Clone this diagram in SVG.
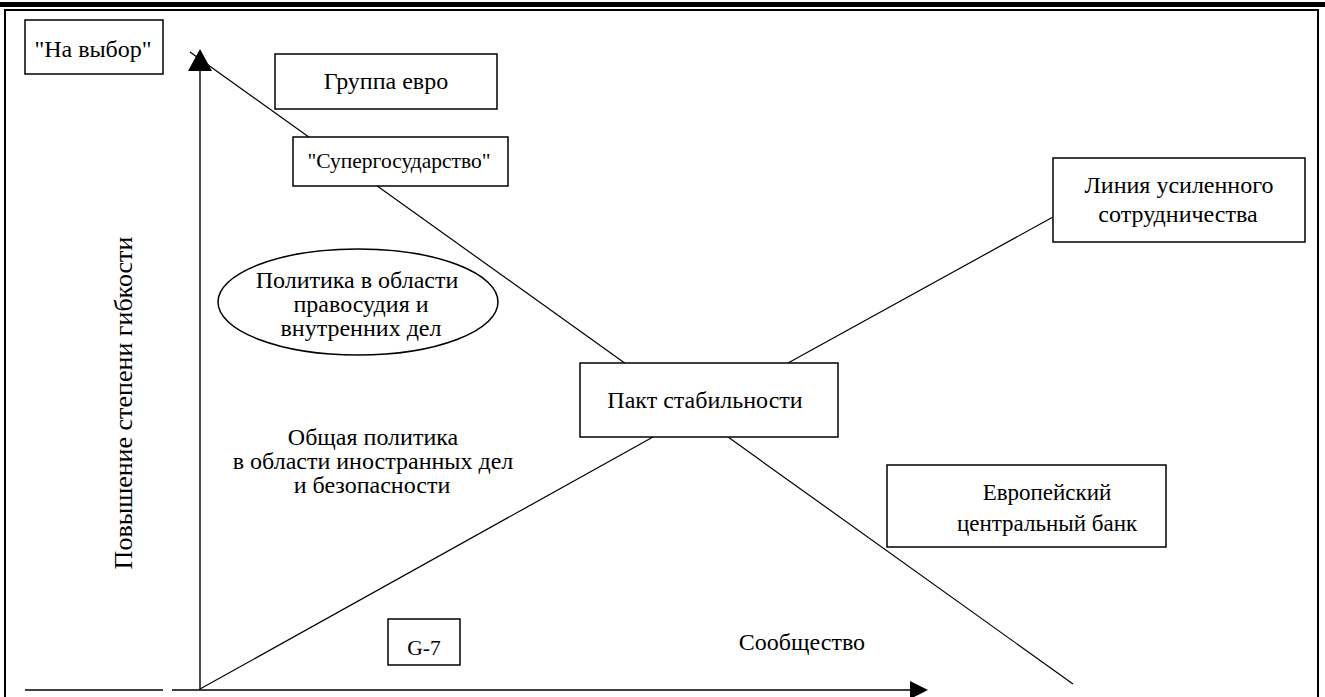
<svg xmlns="http://www.w3.org/2000/svg" width="1325" height="697" viewBox="0 0 1325 697" font-family="'Liberation Serif', 'Times New Roman', 'DejaVu Serif', serif">
<style>
text{font-family:'Liberation Serif','Times New Roman','DejaVu Serif',serif;fill:#000;text-anchor:middle;font-size:24px}
.box{fill:#fff;stroke:#000;stroke-width:1.5}
.ln{stroke:#000;stroke-width:1.2;fill:none}
.ax{stroke:#000;stroke-width:1.4;fill:none}
.t21{font-size:21.5px}
.t23{font-size:23px}
.t26{font-size:26px}
</style>
<rect width="1325" height="697" fill="#fff"/>
<g id="frame">
<rect x="0" y="2" width="1325" height="5" fill="#000"/>
<path d="M5,697 V10 H1318 V697" fill="none" stroke="#000" stroke-width="2"/>
</g>
<g id="connectors">
<line class="ln" x1="190" y1="52" x2="1073" y2="684"/>
<line class="ln" x1="200" y1="689" x2="653" y2="437"/>
<line class="ln" x1="788" y1="363" x2="1053" y2="217"/>
<line class="ax" x1="25" y1="690" x2="163" y2="690"/>
<path class="ax" d="M172,690 H912"/>
<path d="M910,681 L928,690 L910,699 Z" fill="#000"/>
<path class="ax" d="M200,690 V68"/>
<path d="M188,71 L200,49 L212,71 Z" fill="#000"/>
</g>
<g id="na-vybor"><rect class="box" x="25" y="20" width="138" height="54"/><text x="93" y="57">"На выбор"</text></g>
<g id="gruppa-evro"><rect class="box" x="275" y="54" width="222" height="55"/><text x="386" y="89">Группа евро</text></g>
<g id="supergos"><rect class="box" x="293" y="137" width="215" height="49"/><text class="t21" x="399" y="168">"Супергосударство"</text></g>
<g id="politika-pravo"><ellipse cx="358" cy="302" rx="140" ry="53" class="box"/><text x="357" y="288">Политика в области</text><text x="361" y="312">правосудия и</text><text x="361" y="336">внутренних дел</text></g>
<g id="pakt"><rect class="box" x="580" y="363" width="258" height="74"/><text x="705" y="408">Пакт стабильности</text></g>
<g id="liniya"><rect class="box" x="1053" y="158" width="252" height="84"/><text x="1179" y="193">Линия усиленного</text><text x="1178" y="222">сотрудничества</text></g>
<g id="ecb"><rect class="box" x="887" y="465" width="279" height="82"/><text class="t23" x="1047" y="500">Европейский</text><text class="t23" x="1047" y="531">центральный банк</text></g>
<g id="obshaya"><text x="373" y="445">Общая политика</text><text x="373" y="469">в области иностранных дел</text><text x="372" y="493">и безопасности</text></g>
<g id="g7"><rect class="box" x="388" y="619" width="72" height="46"/><text class="t21" x="424" y="655">G-7</text></g>
<g id="soobshestvo"><text x="802" y="650">Сообщество</text></g>
<g id="axis-label"><text class="t26" transform="translate(132,403) rotate(-90)">Повышение степени гибкости</text></g>
</svg>
